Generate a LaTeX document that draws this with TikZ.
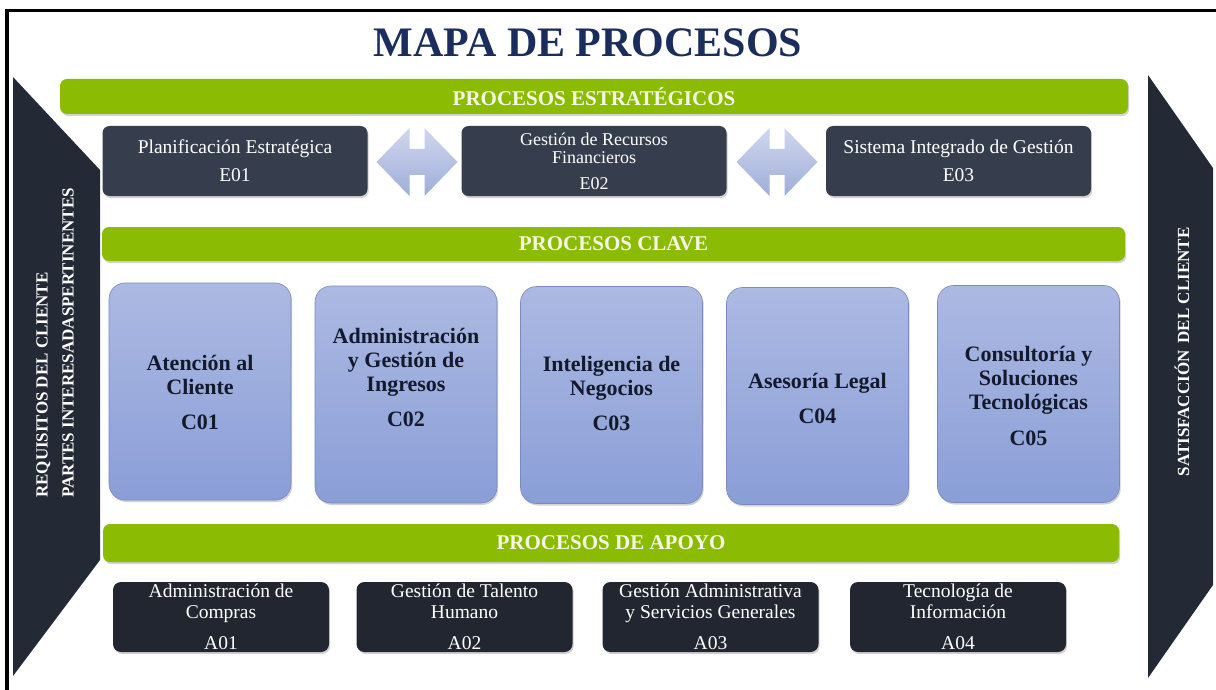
\documentclass[tikz,border=0pt]{standalone}
\usepackage{fontspec}
\setmainfont{Liberation Serif}
\usetikzlibrary{shadows}
\definecolor{sidec}{RGB}{35,41,53}
\definecolor{eboxc}{RGB}{54,62,77}
\definecolor{aboxc}{RGB}{33,38,48}
\definecolor{greenc}{RGB}{140,187,4}
\definecolor{ctopc}{RGB}{172,185,226}
\definecolor{cbotc}{RGB}{138,158,215}
\definecolor{cdrawc}{RGB}{120,138,190}
\definecolor{titlec}{RGB}{27,45,92}
\definecolor{bartextc}{RGB}{246,247,226}
\definecolor{ctextc}{RGB}{20,26,44}
\definecolor{arrtopc}{RGB}{208,215,238}
\definecolor{arrbotc}{RGB}{158,173,216}
\begin{document}
\begin{tikzpicture}[x=1pt,y=-1pt,
  shadowed/.style={drop shadow={opacity=0.35, shadow xshift=1.2pt, shadow yshift=-2pt}},
  gbar/.style={fill=greenc, rounded corners=7pt, inner sep=0pt, text=bartextc,
    font=\fontsize{21}{23}\selectfont\bfseries, shadowed},
  ebox/.style={fill=eboxc, rounded corners=7pt, inner sep=0pt, text=white, align=center,
    minimum width=265pt, minimum height=70pt, font=\fontsize{19.5}{22}\selectfont, shadowed},
  abox/.style={fill=aboxc, rounded corners=8pt, inner sep=0pt, text=white, align=center,
    minimum width=216pt, minimum height=70pt, font=\fontsize{19.5}{21}\selectfont, shadowed},
  cbox/.style={top color=ctopc, bottom color=cbotc, draw=cdrawc, line width=0.6pt,
    rounded corners=16pt, inner sep=0pt, minimum width=182pt, minimum height=217pt, shadowed},
  ctext/.style={align=center, text=ctextc, inner sep=0pt, font=\fontsize{22}{24}\selectfont\bfseries},
  sidetext/.style={rotate=90, inner sep=0pt, text=white, align=left,
    font=\fontsize{17}{26}\selectfont\bfseries},
  darr/.style={top color=arrtopc, bottom color=arrbotc}
]
\useasboundingbox (0,0) rectangle (1216,690);
\fill[white] (0,0) rectangle (1216,690);
% frame
\draw[line width=3.2pt] (7,690) -- (7,10.5) -- (1216,10.5);

% title
\node[font=\fontsize{42}{44}\selectfont\bfseries, text=titlec, inner sep=0pt] (title) at (588,43) {MAPA DE PROCESOS};

% side shapes
\fill[sidec] (13,77) -- (100,170) -- (100,560) -- (13,676) -- cycle;
\fill[sidec] (1148,75) -- (1213,168) -- (1213,585) -- (1148,678) -- cycle;
\node[sidetext, anchor=west] (left) at (55,498) {REQUISITOS DEL CLIENTE\\PARTES INTERESADASPERTINENTES};
\node[sidetext] (right) at (1182,352) {SATISFACCIÓN\, DEL CLIENTE};

% green bars
\node[gbar, minimum width=1068pt, minimum height=35pt] (gb1) at (594,96.5) {PROCESOS ESTRATÉGICOS};
\node[gbar, minimum width=1023pt, minimum height=34pt] (gb2) at (613.5,244) {PROCESOS CLAVE};
\node[gbar, minimum width=1016pt, minimum height=38pt] (gb3) at (611,543) {PROCESOS DE APOYO};

% strategic boxes
\node[ebox] (e1) at (235,161) {Planificación Estratégica\\[6pt]E01};
\node[ebox, font=\fontsize{18}{18}\selectfont] (e2) at (594,161) {Gestión de Recursos\\Financieros\\[8pt]E02};
\node[ebox] (e3) at (958.5,161) {Sistema Integrado de Gestión\\[6pt]E03};

% double arrows
\coordinate (d1) at (417,162);
\coordinate (d2) at (777,162);
\foreach \d in {d1,d2}{
  \shade[darr] ([shift={(\d)}]-40.5,0) -- ([shift={(\d)}]-7.5,-34) -- ([shift={(\d)}]-7.5,-13)
    -- ([shift={(\d)}]7.5,-13) -- ([shift={(\d)}]7.5,-34) -- ([shift={(\d)}]40.5,0)
    -- ([shift={(\d)}]7.5,34) -- ([shift={(\d)}]7.5,13) -- ([shift={(\d)}]-7.5,13)
    -- ([shift={(\d)}]-7.5,34) -- cycle;
}

% key process boxes
\node[cbox] (c1) at (200,391.5) {};
\node[cbox] (c2) at (406,394.5) {};
\node[cbox] (c3) at (611.5,395) {};
\node[cbox] (c4) at (817.5,396) {};
\node[cbox] (c5) at (1028.5,394) {};
\node[ctext] (c1t) at (200,392) {Atención al\\Cliente\\[11pt]C01};
\node[ctext] (c2t) at (406,377) {Administración\\y Gestión de\\Ingresos\\[11pt]C02};
\node[ctext] (c3t) at (611.5,393) {Inteligencia de\\Negocios\\[11pt]C03};
\node[ctext] (c4t) at (817.5,398) {Asesoría Legal\\[11pt]C04};
\node[ctext] (c5t) at (1028.5,396) {Consultoría y\\Soluciones\\Tecnológicas\\[12pt]C05};

% support boxes
\node[abox] (a1) at (221,617) {Administración de\\Compras\\[10pt]A01};
\node[abox] (a2) at (464.5,617) {Gestión de Talento\\Humano\\[10pt]A02};
\node[abox] (a3) at (710.5,617) {Gestión Administrativa\\y Servicios Generales\\[10pt]A03};
\node[abox] (a4) at (958,617) {Tecnología de\\Información\\[10pt]A04};
\end{tikzpicture}
\end{document}
